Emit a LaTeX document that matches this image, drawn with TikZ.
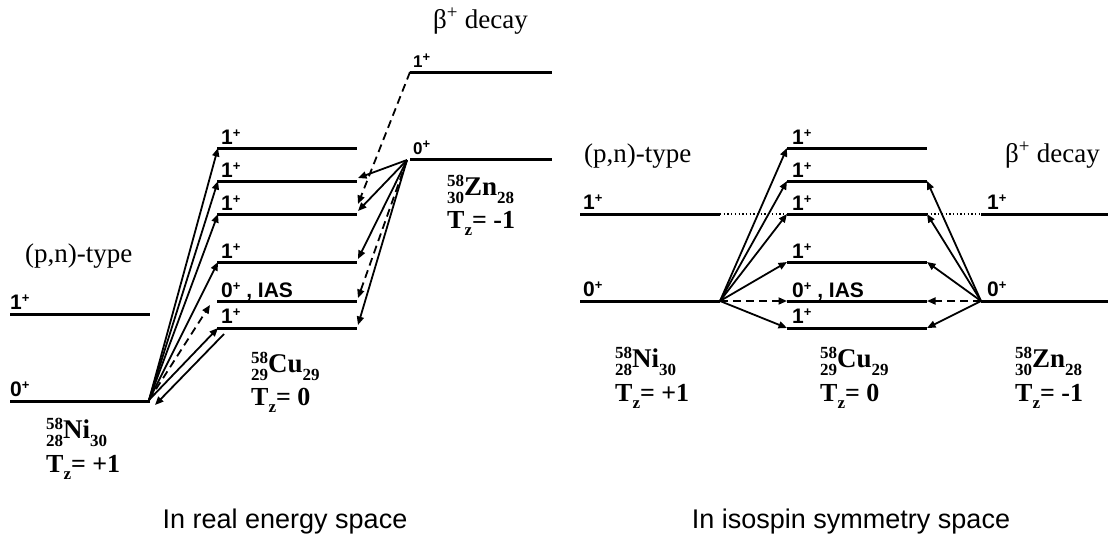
\documentclass[tikz,border=0pt]{standalone}
\usepackage{fontspec}
\setmainfont{Liberation Serif}
\setsansfont{Liberation Sans}
\usetikzlibrary{arrows.meta}
\newcommand\fs[1]{\fontsize{#1}{#1}\selectfont}
\newcommand\nucl[4]{{\fs{27}\makebox[0pt][l]{\raisebox{9pt}{\fs{17}#1}}\raisebox{-8pt}{\fs{17}#2}#3\raisebox{-8pt}{\fs{17}#4}}}
\newcommand\tz[1]{{\fs{26}T\raisebox{-7pt}{\fs{17}z}= #1}}
\newcommand\lv[1]{#1\raisebox{0.3em}{\fs{13}+}}
\begin{document}
\begin{tikzpicture}[x=1pt,y=-1pt,
  level/.style={line width=3pt},
  arr/.style={line width=1.8pt,-{Triangle[length=8.5pt,width=7pt]}},
  darr/.style={arr,dash pattern=on 8pt off 5pt},
  dotl/.style={line width=1.3pt,dash pattern=on 1.3pt off 2.4pt},
  lbl/.style={font=\sffamily\bfseries\fs{21},inner sep=0pt,anchor=base west},
  lbls/.style={lbl,font=\sffamily\bfseries\fs{17}},
  nuc/.style={font=\bfseries,inner sep=0pt,anchor=base west},
  ttl/.style={font=\fs{27},inner sep=0pt,anchor=base west},
  captext/.style={font=\sffamily\fs{27},inner sep=0pt,anchor=base}]
\useasboundingbox (0,0) rectangle (1108,539);
% ---------------- left panel ----------------
\coordinate (lni1a) at (10,314); \coordinate (lni1b) at (150,314);
\coordinate (lni0a) at (10,401); \coordinate (lni0b) at (150,401);
\draw[level] (lni1a) -- (lni1b);
\draw[level] (lni0a) -- (lni0b);
\node[lbl] (lni1l) at (10,309) {\lv{1}};
\node[lbl] (lni0l) at (10,396) {\lv{0}};
\foreach \n/\y in {a/148,b/181,c/214,d/262,e/301,f/328}{
  \coordinate (lcu\n L) at (217,\y); \coordinate (lcu\n R) at (357,\y);
  \draw[level] (lcu\n L) -- (lcu\n R);
  \coordinate (lcu\n TL) at (218,\y); \coordinate (lcu\n TR) at (358,\y-3);
}
\node[lbl] (lcual) at (221,144) {\lv{1}};
\node[lbl] (lcubl) at (221,177) {\lv{1}};
\node[lbl] (lcucl) at (221,210) {\lv{1}};
\node[lbl] (lcudl) at (221,258) {\lv{1}};
\node[lbl] (lcuel) at (221,297) {\lv{0} , IAS};
\node[lbl] (lcufl) at (221,323) {\lv{1}};
\coordinate (lzn1a) at (410,72); \coordinate (lzn1b) at (552,72);
\coordinate (lzn0a) at (410,159); \coordinate (lzn0b) at (552,159);
\draw[level] (lzn1a) -- (lzn1b);
\draw[level] (lzn0a) -- (lzn0b);
\node[lbls] (lzn1l) at (413,67) {\lv{1}};
\node[lbls] (lzn0l) at (413,154) {\lv{0}};
% arrows from Ni 0+
\coordinate (lo) at (149,400);
\foreach \n in {a,b,c,d,f}{ \draw[arr] (lo) -- (lcu\n TL); }
\coordinate (ldash) at (210,305);
\draw[darr] (lo) -- (ldash);
\coordinate (lback1) at (224,334); \coordinate (lback2) at (155,405);
\draw[arr] (lback1) -- (lback2);
% arrows from Zn 0+
\coordinate (lz) at (407,160);
\foreach \n in {b,c,d,f}{ \draw[arr] (lz) -- (lcu\n TR); }
\draw[darr] (lz) -- (lcueTR);
\coordinate (lz1end) at (358,204);
\draw[darr] (lzn1a) -- (lz1end);
% texts
\node[ttl] (lpn) at (25,262) {(p,n)-type};
\node[ttl] (lbeta) at (433,28) {β\textsuperscript{+} decay};
\node[nuc] (lnin) at (46,438) {\nucl{58}{28}{Ni}{30}};
\node[nuc] (lnit) at (46,472) {\tz{+1}};
\node[nuc] (lcun) at (251,372) {\nucl{58}{29}{Cu}{29}};
\node[nuc] (lcut) at (251,405) {\tz{0}};
\node[nuc] (lznn) at (447,195) {\nucl{58}{30}{Zn}{28}};
\node[nuc] (lznt) at (447,228) {\tz{-1}};
\node[captext] (lcap) at (285,528) {In real energy space};
% ---------------- right panel ----------------
\coordinate (rni1a) at (580,214); \coordinate (rni1b) at (720,214);
\coordinate (rni0a) at (580,301); \coordinate (rni0b) at (720,301);
\draw[level] (rni1a) -- (rni1b);
\draw[level] (rni0a) -- (rni0b);
\node[lbl] (rni1l) at (583,209) {\lv{1}};
\node[lbl] (rni0l) at (583,296) {\lv{0}};
\foreach \n/\y in {a/148,b/181,c/214,d/262,e/301,f/328}{
  \coordinate (rcu\n L) at (787,\y); \coordinate (rcu\n R) at (927,\y);
  \draw[level] (rcu\n L) -- (rcu\n R);
}
\node[lbl] (rcual) at (792,144) {\lv{1}};
\node[lbl] (rcubl) at (792,177) {\lv{1}};
\node[lbl] (rcucl) at (792,210) {\lv{1}};
\node[lbl] (rcudl) at (792,258) {\lv{1}};
\node[lbl] (rcuel) at (792,297) {\lv{0} , IAS};
\node[lbl] (rcufl) at (792,323) {\lv{1}};
\coordinate (rzn1a) at (981,214); \coordinate (rzn1b) at (1108,214);
\coordinate (rzn0a) at (981,301); \coordinate (rzn0b) at (1108,301);
\draw[level] (rzn1a) -- (rzn1b);
\draw[level] (rzn0a) -- (rzn0b);
\node[lbl] (rzn1l) at (987,209) {\lv{1}};
\node[lbl] (rzn0l) at (987,296) {\lv{0}};
\draw[dotl] (rni1b) -- (rcucL);
\draw[dotl] (rcucR) -- (rzn1a);
% arrows
\foreach \n in {a,b,c,d,f}{ \draw[arr] (rni0b) -- (rcu\n L); }
\draw[darr] (rni0b) -- (rcueL);
\foreach \n in {b,c,d,f}{ \draw[arr] (rzn0a) -- (rcu\n R); }
\draw[darr] (rzn0a) -- (rcueR);
% texts
\node[ttl] (rpn) at (584,162) {(p,n)-type};
\node[ttl] (rbeta) at (1005,162) {β\textsuperscript{+} decay};
\node[nuc] (rnin) at (615,367) {\nucl{58}{28}{Ni}{30}};
\node[nuc] (rnit) at (615,401) {\tz{+1}};
\node[nuc] (rcun) at (820,367) {\nucl{58}{29}{Cu}{29}};
\node[nuc] (rcut) at (820,401) {\tz{0}};
\node[nuc] (rznn) at (1015,367) {\nucl{58}{30}{Zn}{28}};
\node[nuc] (rznt) at (1015,401) {\tz{-1}};
\node[captext] (rcap) at (851,528) {In isospin symmetry space};
\end{tikzpicture}
\end{document}
